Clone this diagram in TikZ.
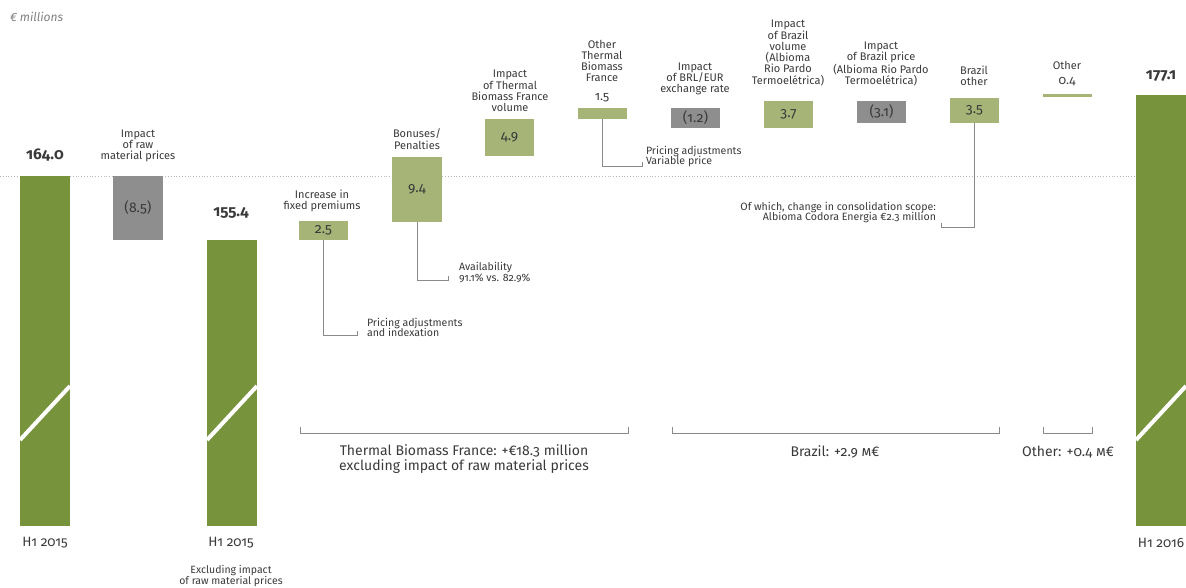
\documentclass[tikz,border=0pt]{standalone}
\usepackage{fontspec}
\setmainfont{Fira Sans}[Numbers=OldStyle]
\definecolor{dkgreen}{HTML}{77933C}
\definecolor{ltgreen}{HTML}{A6B577}
\definecolor{boxgray}{HTML}{8E8E8E}
\definecolor{txt}{HTML}{3A3A3A}
\definecolor{lngray}{HTML}{8A8A8A}
\begin{document}
\begin{tikzpicture}[x=1pt,y=-1pt,
		every node/.style={text=txt,inner sep=0,outer sep=0},
		darkbar/.style={fill=dkgreen,minimum width=50pt,anchor=north west},
		upbox/.style={fill=ltgreen,minimum width=49pt,anchor=north west,font=\fontsize{14}{14}\selectfont},
		downbox/.style={fill=boxgray,minimum width=49pt,anchor=north west,font=\fontsize{14}{14}\selectfont},
		captext/.style={align=center,font=\fontsize{11}{11.3}\selectfont},
		note/.style={align=left,anchor=west,font=\fontsize{10.6}{10.7}\selectfont},
		total/.style={font=\fontsize{15.5}{15.5}\selectfont\bfseries},
		period/.style={font=\fontsize{13.5}{13.5}\selectfont},
		group/.style={align=center,font=\fontsize{14}{14.6}\selectfont},
		callout/.style={draw=lngray,line width=0.8pt},
		slash/.style={draw=white,line width=4pt}]
	\useasboundingbox (0,0) rectangle (1186,588);
	\node[anchor=west,text=gray,font=\fontsize{12}{12}\selectfont\itshape] (unit) at (10,17) {€ millions};
	\draw[dotted,gray!55,line width=0.8pt] (0,176) -- (1136,176);
	% bars and boxes
	\node[darkbar,minimum height=350pt] (h15) at (20,176) {};
	\node[downbox,minimum height=64pt,minimum width=50pt] (raw) at (113,176) {(8.5)};
	\node[darkbar,minimum height=286pt] (h15x) at (207,240) {};
	\node[upbox,minimum height=19pt] (fix) at (299,221) {2.5};
	\node[upbox,minimum height=65pt,minimum width=50pt] (bon) at (392,157) {9.4};
	\node[upbox,minimum height=37pt] (vol) at (485,119) {4.9};
	\node[upbox,minimum height=11pt] (oth) at (578,108) {};
	\node[downbox,minimum height=20pt] (brl) at (671,108) {(1.2)};
	\node[upbox,minimum height=27pt] (bvol) at (764,101) {3.7};
	\node[downbox,minimum height=22pt] (bpr) at (857,101) {(3.1)};
	\node[upbox,minimum height=25pt] (bot) at (950,98) {3.5};
	\node[upbox,minimum height=2.5pt] (oth2) at (1043,94.5) {};
	\node[darkbar,minimum height=431pt] (h16) at (1136,95) {};
	\foreach \b in {h15,h15x,h16}
		\draw[slash] (\b.west |- 0,440) -- (\b.east |- 0,386);
	% totals
	\node[total] (t164) at (45,155) {164.0};
	\node[total] (t155) at (231,213) {155.4};
	\node[total] (t177) at (1161,76) {177.1};
	\node[period] (p15) at (45,543) {H1 2015};
	\node[period] (p15x) at (231,543) {H1 2015};
	\node[period] (p16) at (1161,543) {H1 2016};
	\node[captext,font=\fontsize{10.5}{11}\selectfont] (excl) at (231,576) {Excluding impact\\of raw material prices};
	% captions
	\node[captext] (capraw) at (138,146) {Impact\\of raw\\material prices};
	\node[captext] (capfix) at (322,201) {Increase in\\fixed premiums};
	\node[captext] (capbon) at (417,139) {Bonuses/\\Penalties};
	\node[captext] (capvol) at (510,91) {Impact\\of Thermal\\Biomass France\\volume};
	\node[captext] (capoth) at (602,61) {Other\\Thermal\\Biomass\\France};
	\node[captext,font=\fontsize{12.5}{12.5}\selectfont] (v15) at (602,98) {1.5};
	\node[captext] (capbrl) at (695,79) {Impact\\of BRL/EUR\\exchange rate};
	\node[captext] (capbvol) at (788,53) {Impact\\of Brazil\\volume\\(Albioma\\Rio Pardo\\Termoelétrica)};
	\node[captext] (capbpr) at (881,64) {Impact\\of Brazil price\\(Albioma Rio Pardo\\Termoelétrica)};
	\node[captext] (capbot) at (974,75.5) {Brazil\\other};
	\node[captext] (capoth2) at (1067,65) {Other};
	\node[captext,font=\fontsize{12.5}{12.5}\selectfont] (v04) at (1067,82) {0.4};
	% callouts
	\node[note] (n25) at (367,327.5) {Pricing adjustments\\and indexation};
	\node[note] (n94) at (459,272.5) {Availability\\91.1\% vs. 82.9\%};
	\node[note] (n15) at (646,156.5) {Pricing adjustments\\Variable price};
	\node[note,anchor=east,align=right] (n35) at (936,212.5) {Of which, change in consolidation scope:\\Albioma Codora Energia €2.3 million};
	\coordinate (c25) at (357,335);
	\coordinate (c94) at (448,280);
	\coordinate (c15) at (642,166);
	\coordinate (c35) at (941,227);
	\draw[callout] (fix.south) |- (c25) -- ++(0,-4);
	\draw[callout] (bon.south) |- (c94) -- ++(0,-4);
	\draw[callout] (oth.south) |- (c15) -- ++(0,-4);
	\draw[callout] (bot.south) |- (c35) -- ++(0,-4);
	% groups
	\draw[callout] (300,427) -- (300,433) -- (628,433) -- (628,427);
	\draw[callout] (672,427) -- (672,433) -- (999,433) -- (999,427);
	\draw[callout] (1043,427) -- (1043,433) -- (1092,433) -- (1092,427);
	\node[group] (gtbf) at (464,459) {Thermal Biomass France: +€18.3 million\\excluding impact of raw material prices};
	\node[group] (gbrz) at (835,452) {Brazil: +2.9 \textsc{m}€};
	\node[group] (goth) at (1068,452) {Other: +0.4 \textsc{m}€};
\end{tikzpicture}
\end{document}
